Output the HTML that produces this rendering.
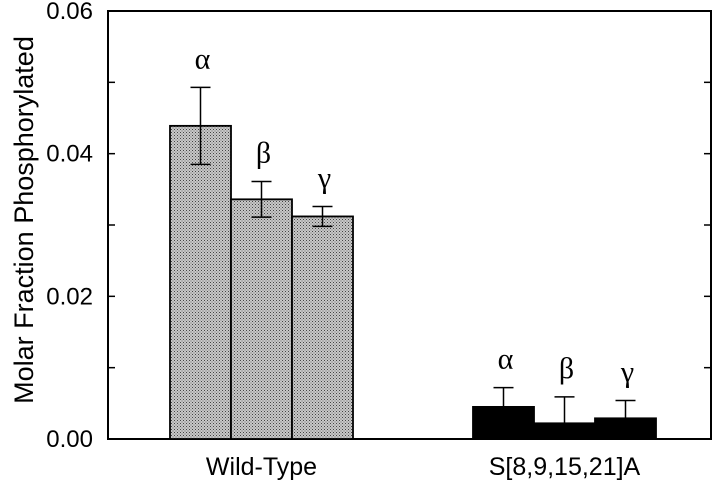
<!DOCTYPE html>
<html><head><meta charset="utf-8"><style>
body{margin:0;background:#fff;}
svg text{font-family:"Liberation Sans",Arial,sans-serif;}
svg text.greek{font-family:"Liberation Serif","DejaVu Serif",serif;}
</style></head><body>
<svg id="chart" width="720" height="484" xmlns="http://www.w3.org/2000/svg">
<defs>
<pattern id="dots" width="3" height="3" patternUnits="userSpaceOnUse">
<rect width="3" height="3" fill="#c8c8c8"/><rect width="1" height="1" fill="#444"/><rect x="1.5" y="1.5" width="1" height="1" fill="#666"/>
</pattern>
</defs>
<g id="plot"></g>
</svg>
<script>
const groups = ["Wild-Type", "S[8,9,15,21]A"];
const subunits = ["α", "β", "γ"];
const wtValues = [0.0439, 0.0336, 0.0312];
const wtErrors = [0.0054, 0.0025, 0.0014];
const mutValues = [0.0045, 0.0022, 0.0029];
const mutErrors = [0.0027, 0.0037, 0.0025];
const yTicks = [0, 0.02, 0.04, 0.06];
const yMinorTicks = [0.01, 0.03, 0.05];
const yTickLabels = ["0.00", "0.02", "0.04", "0.06"];

const NS = "http://www.w3.org/2000/svg";
const g = document.getElementById('plot');
const L = 108, R = 711, T = 11, B = 439;
const y = v => B - (v / 0.06) * (B - T);
const groupStart = [170, 473], barW = 61;
function mk(tag, attrs, parent) {
  const e = document.createElementNS(NS, tag);
  for (const k in attrs) e.setAttribute(k, attrs[k]);
  (parent || g).appendChild(e); return e;
}
const fr = mk('rect', {x: L, y: T, width: R - L, height: B - T, fill: 'none', stroke: '#000', 'stroke-width': 2});


yTicks.concat(yMinorTicks).forEach(t => {
  const ln = mk('line', {x1: L, x2: L + 7, y1: y(t), y2: y(t), stroke: '#000', 'stroke-width': 1.5});
  
  
  const ln2 = mk('line', {x1: R - 7, x2: R, y1: y(t), y2: y(t), stroke: '#000', 'stroke-width': 1.5});
  
  
});
yTicks.forEach((t, i) => {
  const tx = mk('text', {x: L - 15, y: y(t) + 8, 'text-anchor': 'end', 'font-size': 24});
  tx.textContent = yTickLabels[i];
  
  
});
const yt = mk('text', {x: 0, y: 0, transform: `translate(33,${(T + B) / 2 - 5}) rotate(-90)`, 'text-anchor': 'middle', 'font-size': 27});
yt.textContent = "Molar Fraction Phosphorylated";



[[wtValues, wtErrors, 'url(#dots)'], [mutValues, mutErrors, '#000']].forEach((s, gi) => {
  const [vals, errs, fill] = s;
  vals.forEach((v, i) => {
    const x = groupStart[gi] + i * barW, cx = x + barW / 2;
    const r = mk('rect', {x: x, y: y(v), width: barW, height: B - y(v), fill: fill, stroke: '#000', 'stroke-width': 1.8});
    
    
    const top = y(v + errs[i]), bot = y(Math.max(0, v - errs[i]));
    const e = mk('path', {d: `M${cx},${top}V${bot}M${cx - 10},${top}H${cx + 10}M${cx - 10},${bot}H${cx + 10}`, stroke: '#000', 'stroke-width': 1.5, fill: 'none'});
    
    
    const lb = mk('text', {x: cx + 2, y: top - 19, 'text-anchor': 'middle', 'font-size': 30, 'class': 'greek'});
    lb.textContent = subunits[i];
    
    
  });
  const gl = mk('text', {x: groupStart[gi] + barW * 1.5, y: 475, 'text-anchor': 'middle', 'font-size': 25});
  gl.textContent = groups[gi];
  
  
});
</script>
</body></html>
